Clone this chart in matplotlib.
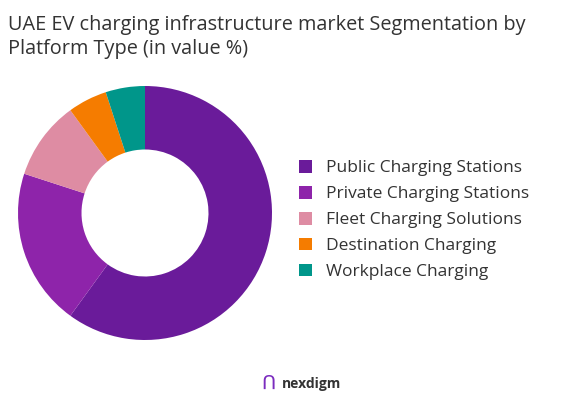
import matplotlib.pyplot as plt
from matplotlib.patches import Patch

labels = ['Public Charging Stations', 'Private Charging Stations', 'Fleet Charging Solutions',
          'Destination Charging', 'Workplace Charging']
values = [60, 20, 10, 5, 5]
colors = ['#6a1b9a', '#8e24aa', '#de8ca3', '#f57c00', '#00968a']

plt.rcParams['font.family'] = ['Open Sans', 'DejaVu Sans']
fig = plt.figure(figsize=(5.67, 4.08), dpi=100)

ax = fig.add_axes([145/567 - 127/567, 1 - (213 + 127)/408, 254/567, 254/408])
ax.pie(values, colors=colors, startangle=90, counterclock=False,
       wedgeprops=dict(width=0.5, edgecolor='none'))
ax.set_xlim(-1, 1)
ax.set_ylim(-1, 1)
ax.set_aspect('equal')

fig.text(8/567, 1 - 37/408, 'UAE EV charging infrastructure market Segmentation by\nPlatform Type (in value %)',
         fontsize=14.3, color='#333333', va='center', ha='left', linespacing=1.25)

handles = [Patch(facecolor=c) for c in colors]
fig.legend(handles, labels, loc='center left', bbox_to_anchor=(283/567, 1 - 220/408),
           frameon=False, fontsize=12.5, handlelength=0.75, handleheight=0.75,
           labelspacing=0.55, labelcolor='#333333')

fig.text(268/567, 1 - 384/408, 'ᑎ', fontsize=14, color='#7b2cbf', ha='center', va='center')
fig.text(282/567, 1 - 384/408, 'nexdigm', fontsize=10, color='#333333', ha='left', va='center',
         fontweight='bold')

fig.savefig('out.png', dpi=100)
